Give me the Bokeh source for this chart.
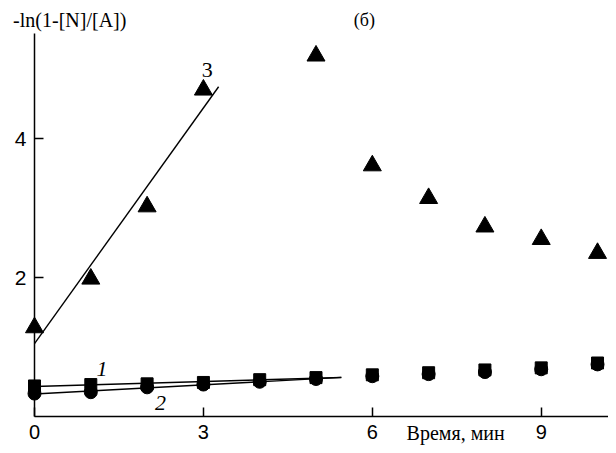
import numpy as np
from bokeh.plotting import figure
from bokeh.models import Label, FixedTicker, Range1d
from bokeh.embed import file_html
from bokeh.resources import INLINE

# ---- data ----
time_min = [0, 1, 2, 3, 4, 5, 6, 7, 8, 9, 10]
series1_squares = [0.44, 0.46, 0.47, 0.49, 0.53, 0.56, 0.60, 0.63, 0.67, 0.70, 0.77]
series2_circles = [0.33, 0.35, 0.42, 0.46, 0.50, 0.54, 0.58, 0.61, 0.64, 0.68, 0.75]
series3_time = [0, 1, 2, 3, 5, 6, 7, 8, 9, 10]
series3_triangles = [1.28, 1.98, 3.02, 4.70, 5.19, 3.61, 3.14, 2.73, 2.55, 2.35]
fit3_points = 4       # linear fit over first 4 triangle points
fit12_points = 6      # linear fit over first 6 points of series 1 and 2
fit3_xmax = 3.27
fit12_xmax = 5.45
x_ticks = [0, 3, 6, 9]
y_ticks = [2, 4]
y_title = "-ln(1-[N]/[A])"
panel_title = "(б)"
x_title = "Время, мин"

SERIF = "Liberation Serif"
SANS = "Liberation Sans"

p = figure(width=608, height=445, output_backend="svg", toolbar_location=None,
           x_range=Range1d(-0.604, 10.195), y_range=Range1d(-0.417, 5.986),
           min_border_left=0, min_border_right=0, min_border_top=0, min_border_bottom=0)
p.outline_line_color = None
p.grid.visible = False

for ax in (p.xaxis[0], p.yaxis[0]):
    ax.fixed_location = 0
    ax.axis_line_color = "black"
    ax.axis_line_width = 1.5
    ax.major_tick_in = 9
    ax.major_tick_out = 0
    ax.minor_tick_line_color = None
    ax.major_tick_line_width = 1.5
    ax.major_label_text_font = SANS
    ax.major_label_text_color = "black"
p.xaxis[0].major_label_text_font_size = "20px"
p.yaxis[0].major_label_text_font_size = "21px"
p.xaxis[0].ticker = FixedTicker(ticks=x_ticks)
p.yaxis[0].ticker = FixedTicker(ticks=y_ticks)
p.xaxis[0].bounds = (0, 10.2)
p.yaxis[0].bounds = (0, 5.51)
p.xaxis[0].major_label_standoff = 8
p.yaxis[0].major_label_standoff = 8

# fits
def fit_line(xs, ys, n, xmax):
    k, b = np.polyfit(np.array(xs[:n], float), np.array(ys[:n], float), 1)
    xx = np.array([0.0, xmax])
    return xx, k * xx + b

for xs, ys, n, xm in [(series3_time, series3_triangles, fit3_points, fit3_xmax),
                      (time_min, series1_squares, fit12_points, fit12_xmax),
                      (time_min, series2_circles, fit12_points, fit12_xmax)]:
    fx, fy = fit_line(xs, ys, n, xm)
    p.line(fx, fy, line_color="black", line_width=1.4)

p.scatter(time_min, series2_circles, marker="circle", size=13, color="black")
p.scatter(time_min, series1_squares, marker="square", size=12, color="black")
p.scatter(series3_time, series3_triangles, marker="triangle", size=18, color="black")

def lab(x, y, t, font, size, style="normal", align="center", baseline="middle"):
    p.add_layout(Label(x=x, y=y, text=t, text_font=font, text_font_size=size,
                       text_font_style=style, text_align=align, text_baseline=baseline,
                       text_color="black"))

lab(3.07, 4.98, "3", SERIF, "22px")
lab(1.2, 0.69, "1", SERIF, "22px", "italic")
lab(2.24, 0.20, "2", SERIF, "22px", "italic")
lab(-0.38, 5.70, y_title, SERIF, "20px", align="left")
lab(5.86, 5.70, panel_title, SERIF, "18px")
lab(7.48, -0.23, x_title, SERIF, "20px")

open("out.html", "w").write(file_html(p, INLINE))
